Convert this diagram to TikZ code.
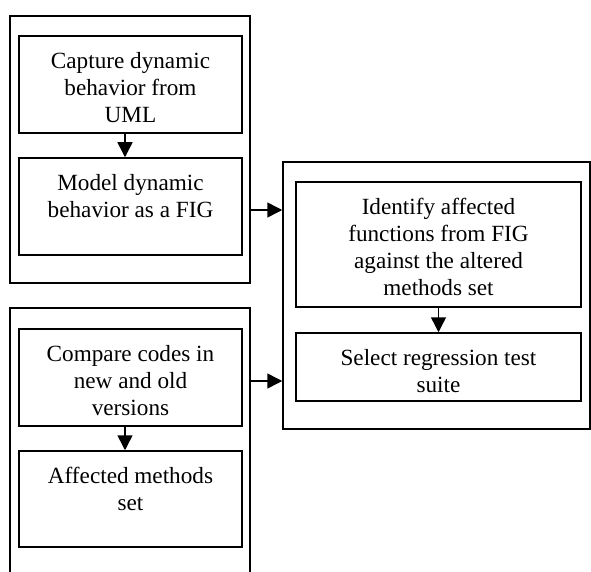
\documentclass[tikz,border=0pt]{standalone}
\usepackage{fontspec}
\setmainfont{Liberation Serif}
\usetikzlibrary{arrows.meta}

% top-aligned text inside a box of fixed size
\newcommand{\steptext}[3]{\parbox[c][#2][t]{#1}{\centering\vspace*{14pt}\strut #3}}

\tikzset{
    frame/.style={draw, line width=1.5pt, inner sep=0pt},
    stepbox/.style={draw, line width=1.5pt, inner sep=0pt,
        font={\fontsize{23.2}{26.8}\selectfont}},
    flow/.style={->, line width=1.5pt}
}

\begin{document}
\begin{tikzpicture}[x=1pt, y=-1pt, >={Triangle[length=15pt,width=15pt]}]
    \useasboundingbox (0,0) rectangle (591,572);
    \clip (0,0) rectangle (591,572);

    % Group frames
    \node[frame, minimum width=240pt, minimum height=267pt] (umlgrp) at (130,149.5) {};
    \node[frame, minimum width=240pt, minimum height=282pt] (codegrp) at (130,449) {};
    \node[frame, minimum width=307pt, minimum height=267pt] (selgrp) at (436.5,295.5) {};

    % Steps
    \node[stepbox] (capture) at (130.5,84.5)
        {\steptext{223pt}{97pt}{Capture dynamic\\ behavior from\\ UML}};
    \node[stepbox] (model) at (130.5,206.5)
        {\steptext{223pt}{97pt}{Model dynamic\\ behavior as a FIG}};
    \node[stepbox] (compare) at (130.5,377.5)
        {\steptext{223pt}{97pt}{Compare codes in\\ new and old\\ versions}};
    \node[stepbox] (methods) at (130.5,499)
        {\steptext{223pt}{96pt}{Affected methods\\ set}};
    \node[stepbox] (identify) at (438.5,244.5)
        {\steptext{285pt}{125pt}{Identify affected\\ functions from FIG\\ against the altered\\ methods set}};
    \node[stepbox] (select) at (438.5,367)
        {\steptext{285pt}{68pt}{Select regression test\\ suite}};

    % Arrows
    \draw[flow] ([xshift=-5.5pt]capture.south) -- ([xshift=-5.5pt]model.north);
    \draw[flow] ([xshift=-5.5pt]compare.south) -- ([xshift=-5.5pt]methods.north);
    \draw[flow] (identify.south) -- (select.north);
    \draw[flow] ([yshift=-3.5pt]model.center -| umlgrp.east) -- ([yshift=-3.5pt]model.center -| selgrp.west);
    \draw[flow] ([yshift=-3.5pt]compare.center -| codegrp.east) -- ([yshift=-3.5pt]compare.center -| selgrp.west);
\end{tikzpicture}
\end{document}
